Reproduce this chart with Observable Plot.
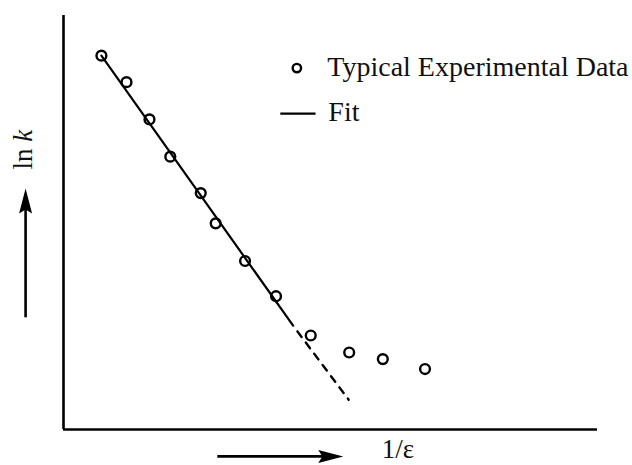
<!DOCTYPE html>
<html>
<head>
<meta charset="utf-8">
<script src="https://cdn.jsdelivr.net/npm/d3@7"></script>
<script src="https://cdn.jsdelivr.net/npm/@observablehq/plot@0.6"></script>
<style>
  body { margin: 0; background: #fff; }
</style>
</head>
<body>
<div id="chart"></div>
<script>
const pointX = [0.71, 1.18, 1.61, 2.00, 2.57, 2.85, 3.40, 3.98, 4.63, 5.35, 5.98, 6.77];
const pointY = [9.03, 8.39, 7.49, 6.59, 5.71, 4.98, 4.07, 3.22, 2.27, 1.86, 1.70, 1.46];

// Linear fit: solid over the fitted range, dashed extrapolation
const fitSolidX = [0.71, 4.30];
const fitSolidY = [9.03, 2.51];
const fitDashX = [4.38, 5.34];
const fitDashY = [2.37, 0.72];

// Texts
const legendLabels = ["Typical Experimental Data", "Fit"];
const xLabel = "1/ε";
const yLabel = "ln k";

const points = pointX.map((x, i) => ({x, y: pointY[i]}));
const fitSolid = fitSolidX.map((x, i) => ({x, y: fitSolidY[i]}));
const fitDash = fitDashX.map((x, i) => ({x, y: fitDashY[i]}));

// filled arrow head, tip at origin, pointing up
const headSymbol = {
  draw(ctx) {
    ctx.moveTo(0, 0);
    ctx.lineTo(6.5, 25);
    ctx.lineTo(0, 21);
    ctx.lineTo(-6.5, 25);
    ctx.closePath();
  }
};

const font = "Liberation Serif, Times New Roman, serif";

const chart = Plot.plot({
  width: 632,
  height: 465,
  marginLeft: 63,
  marginRight: 35,
  marginTop: 15,
  marginBottom: 36,
  x: {domain: [0, 10], axis: null},
  y: {domain: [0, 10], axis: null},
  style: {background: "white", fontFamily: font, color: "black"},
  marks: [
    // axes
    Plot.ruleX([0], {stroke: "black", strokeWidth: 2.6}),
    Plot.ruleY([0], {stroke: "black", strokeWidth: 2.6}),
    // fit
    Plot.line(fitSolid, {x: "x", y: "y", stroke: "black", strokeWidth: 2.2}),
    Plot.line(fitDash, {x: "x", y: "y", stroke: "black", strokeWidth: 2.4, strokeDasharray: "7,7"}),
    // data
    Plot.dot(points, {x: "x", y: "y", r: 4.9, stroke: "black", strokeWidth: 2.4, fill: "none"}),
    // legend
    Plot.dot([legendLabels[0]], {x: 4.37, y: 8.73, r: 4.2, stroke: "black", strokeWidth: 2.4, fill: "none"}),
    Plot.text([legendLabels[0]], {x: 4.94, y: 8.53, text: d => d, textAnchor: "start", lineAnchor: "bottom", fontSize: 28, fill: "#111"}),
    Plot.link([legendLabels[1]], {x1: 4.06, x2: 4.72, y1: 7.63, y2: 7.63, stroke: "black", strokeWidth: 2.4}),
    Plot.text([legendLabels[1]], {x: 4.96, y: 7.46, text: d => d, textAnchor: "start", lineAnchor: "bottom", fontSize: 28, fill: "#111"}),
    // axis direction arrows
    Plot.link([xLabel], {x1: 2.88, x2: 5.0, y1: -0.65, y2: -0.65, stroke: "black", strokeWidth: 2.6}),
    Plot.dot([xLabel], {x: 5.24, y: -0.65, symbol: headSymbol, rotate: 90, fill: "black", stroke: "none", r: 5}),
    Plot.link([yLabel], {x1: -0.71, x2: -0.71, y1: 2.71, y2: 5.4, stroke: "black", strokeWidth: 2.6}),
    Plot.dot([yLabel], {x: -0.71, y: 5.82, symbol: headSymbol, rotate: 0, fill: "black", stroke: "none", r: 5}),
    // axis labels
    Plot.text([xLabel], {x: 5.96, y: -0.69, text: d => d, textAnchor: "start", lineAnchor: "bottom", fontSize: 27, fill: "#111"}),
    Plot.text([yLabel], {x: -0.75, y: 6.76, text: d => d, rotate: -90, textAnchor: "middle", fontSize: 27, fill: "#111"})
  ]
});

// italic k in the y label
d3.select(chart).selectAll("text").filter(function () { return this.textContent === yLabel; })
  .each(function () {
    const parts = yLabel.split(" ");
    this.textContent = parts[0] + " ";
    d3.select(this).append("tspan").attr("font-style", "italic").text(parts[1]);
  });

document.getElementById("chart").appendChild(chart);
</script>
</body>
</html>
